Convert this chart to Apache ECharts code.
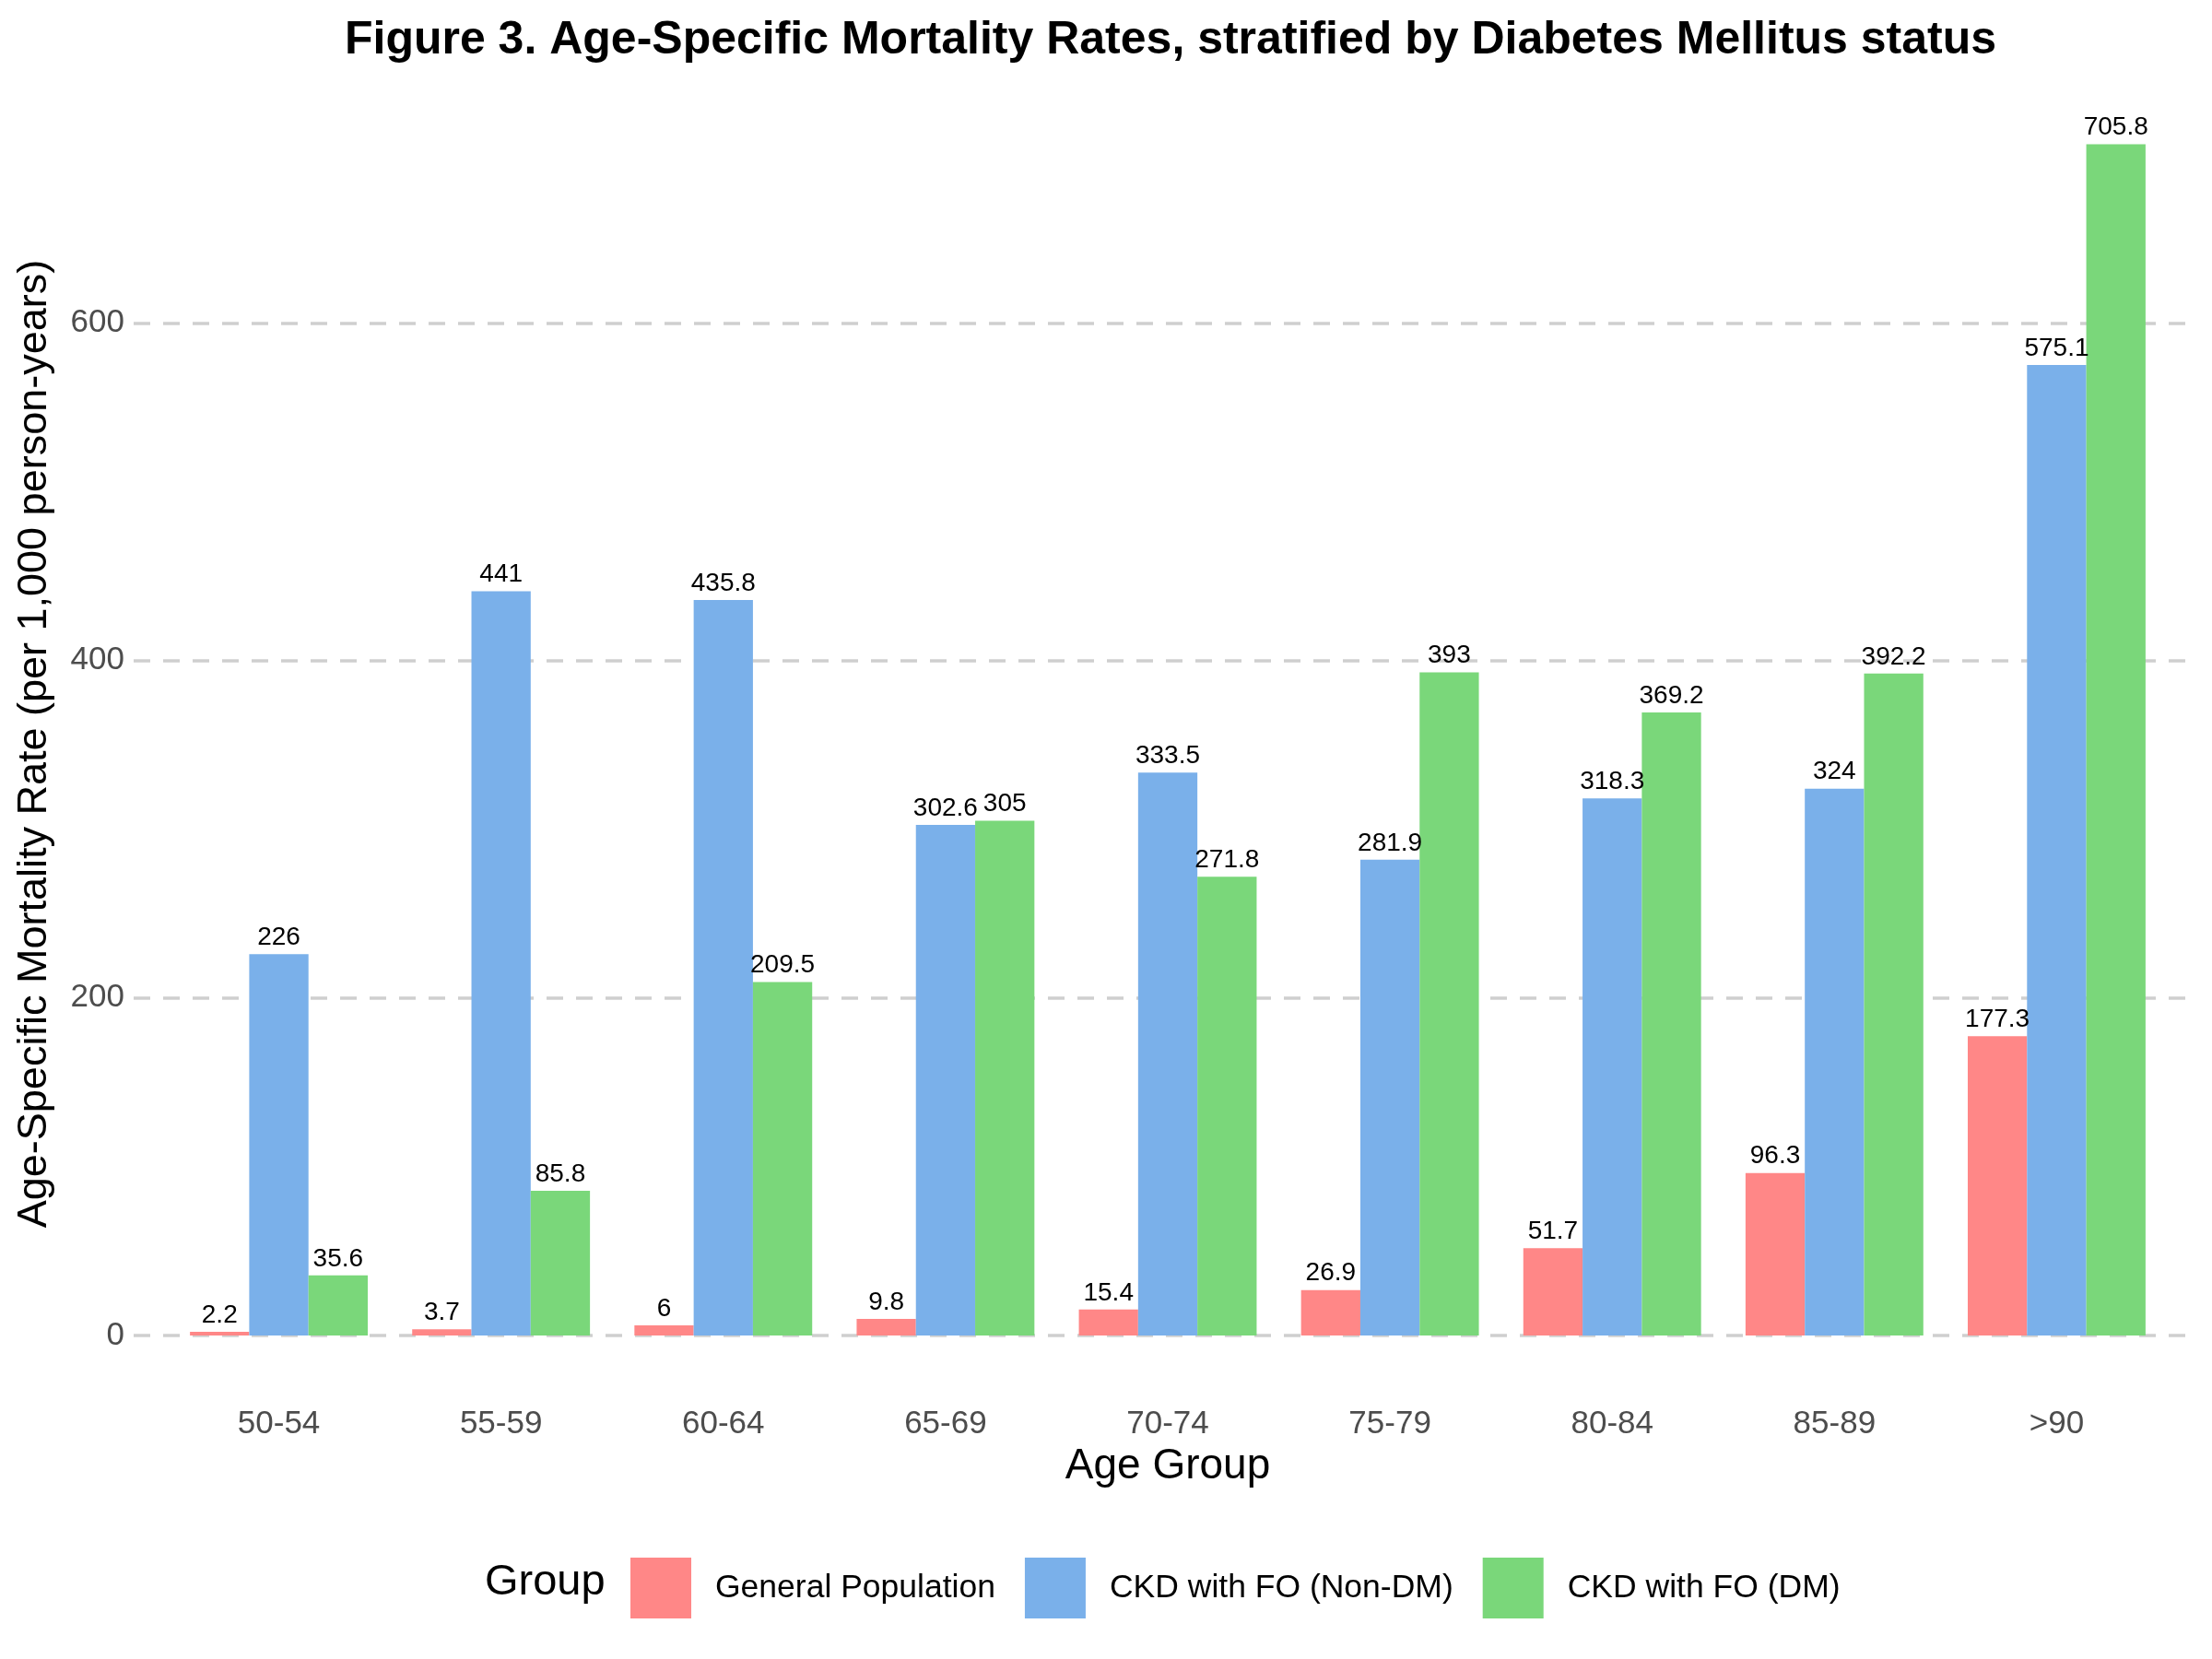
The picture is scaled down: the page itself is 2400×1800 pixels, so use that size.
<!DOCTYPE html>
<html>
<head>
<meta charset="utf-8">
<script src="https://cdn.jsdelivr.net/npm/echarts@6/dist/echarts.min.js"></script>
<style>
    html, body { margin: 0; padding: 0; background: #fff; }
    #container { width: 2400px; height: 1800px; }
</style>
</head>
<body>
<div id="container"></div>
<script type="text/javascript">
    var ageGroups = ['50-54', '55-59', '60-64', '65-69', '70-74', '75-79', '80-84', '85-89', '>90'];
    var seriesNames = ['General Population', 'CKD with FO (Non-DM)', 'CKD with FO (DM)'];
    var generalPop = [2.2, 3.7, 6, 9.8, 15.4, 26.9, 51.7, 96.3, 177.3];
    var ckdNonDM = [226, 441, 435.8, 302.6, 333.5, 281.9, 318.3, 324, 575.1];
    var ckdDM = [35.6, 85.8, 209.5, 305, 271.8, 393, 369.2, 392.2, 705.8];
    var colors = ['#FF8787', '#7AB0EA', '#7AD77A'];

    var font = '"Liberation Sans", Arial, Helvetica, sans-serif';
    var yMax = 741.09; // data max + 5% padding, as in the source figure
    var myChart = echarts.init(document.getElementById('container'));

    function barSeries(name, values, color) {
        return {
            name: name,
            type: 'bar',
            data: values,
            barGap: '0%',
            barCategoryGap: '20%',
            itemStyle: { color: color },
            label: {
                show: true,
                position: 'top',
                distance: 4,
                color: '#000',
                fontSize: 28,
                fontFamily: font
            }
        };
    }

    var option = {
        animation: false,
        backgroundColor: '#fff',
        title: {
            text: 'Figure 3. Age-Specific Mortality Rates, stratified by Diabetes Mellitus status',
            left: 1265,
            top: 14,
            textAlign: 'center',
            textStyle: { fontSize: 50, fontWeight: 'bold', color: '#000', fontFamily: font }
        },
        // grid 0 holds the bars, grid 1 only draws the wider dashed gridlines
        grid: [
            { left: 182, right: 48, top: 92, bottom: 351 },
            { left: 145, right: 28, top: 92, bottom: 351 }
        ],
        legend: {
            left: 679,
            top: 1685,
            icon: 'rect',
            itemWidth: 66,
            itemHeight: 66,
            itemGap: 32,
            data: seriesNames,
            textStyle: { fontSize: 35.5, color: '#000', fontFamily: font, padding: [0, 0, 0, 21] }
        },
        graphic: [
            {
                type: 'text',
                left: 526,
                top: 1694,
                style: { text: 'Group', fontSize: 47, fill: '#000', fontFamily: font }
            },
            {
                type: 'text',
                x: 38,
                y: 807,
                rotation: Math.PI / 2,
                style: {
                    text: 'Age-Specific Mortality Rate (per 1,000 person-years)',
                    fontSize: 45, fill: '#000', fontFamily: font,
                    align: 'center', verticalAlign: 'middle'
                }
            }
        ],
        xAxis: [
            {
                type: 'category',
                gridIndex: 0,
                data: ageGroups,
                name: 'Age Group',
                nameLocation: 'middle',
                nameGap: 113,
                nameTextStyle: { fontSize: 46, color: '#000', fontFamily: font },
                axisLine: { show: false },
                axisTick: { show: false },
                axisLabel: { margin: 79, fontSize: 35, color: '#4d4d4d', fontFamily: font },
                splitLine: { show: false }
            },
            {
                type: 'value',
                gridIndex: 1,
                min: 0,
                max: 1,
                show: false
            }
        ],
        yAxis: [
            {
                type: 'value',
                gridIndex: 0,
                min: 0,
                max: yMax,
                interval: 200,
                axisLine: { show: false },
                axisTick: { show: false },
                axisLabel: { margin: 47, fontSize: 35, color: '#4d4d4d', fontFamily: font, showMaxLabel: false },
                splitLine: { show: false }
            },
            {
                type: 'value',
                gridIndex: 1,
                min: 0,
                max: yMax,
                interval: 200,
                axisLine: { show: false },
                axisTick: { show: false },
                axisLabel: { show: false },
                splitLine: {
                    show: true,
                    showMaxLine: false,
                    lineStyle: { color: '#cfcfcf', width: 3.5, type: [18, 14] }
                }
            }
        ],
        series: [
            barSeries(seriesNames[0], generalPop, colors[0]),
            barSeries(seriesNames[1], ckdNonDM, colors[1]),
            barSeries(seriesNames[2], ckdDM, colors[2])
        ]
    };
    myChart.setOption(option);
</script>
</body>
</html>
